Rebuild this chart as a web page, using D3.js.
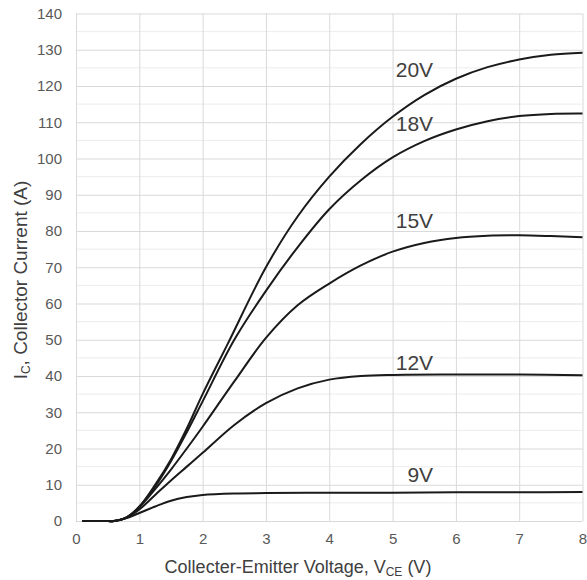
<!DOCTYPE html>
<html><head><meta charset="utf-8">
<script src="https://cdn.jsdelivr.net/npm/d3@7"></script>
<style>body{margin:0;background:#fff}svg{display:block}</style>
</head><body>
<script>
const xTicks = [0,1,2,3,4,5,6,7,8];
const yTicks = [0,10,20,30,40,50,60,70,80,90,100,110,120,130,140];
const yMinor = [5,15,25,35,45,55,65,75,85,95,105,115,125,135];

const seriesNames = ["20V","18V","15V","12V","9V"];
const vce20 = [0.1,0.45,0.6,0.8,1.0,1.25,1.5,1.75,2.0,2.4,3.0,3.5,4.0,4.5,5.0,5.5,6.0,6.5,7.0,7.5,8.0];
const ic20  = [0,0,0,1.0,4.0,10,17,25.5,35,49,70,84,95,104,111.5,117.5,122,125.2,127.3,128.6,129.2];
const vce18 = [0.1,0.45,0.6,0.8,1.0,1.25,1.5,1.75,2.0,2.5,3.0,3.5,4.0,4.5,5.0,5.5,6.0,6.5,7.0,7.5,8.0];
const ic18  = [0,0,0,1.0,3.9,9.5,16.5,24.5,33,50,63.5,75.5,86,94,100.3,104.8,108,110.3,111.7,112.3,112.4];
const vce15 = [0.1,0.45,0.6,0.8,1.0,1.25,1.5,1.75,2.0,2.5,3.0,3.5,4.0,4.5,5.0,5.5,6.0,6.5,7.0,7.5,8.0];
const ic15  = [0,0,0,1.0,3.8,8.8,14.2,20,26,38.5,50.5,59.5,65.5,70.5,74.3,76.7,78.1,78.7,78.8,78.6,78.3];
const vce12 = [0.1,0.45,0.6,0.8,1.0,1.25,1.5,1.75,2.0,2.5,3.0,3.5,4.0,4.5,5.0,6.0,7.0,8.0];
const ic12  = [0,0,0,0.9,3.2,7.2,11.2,15,18.8,26.5,32.5,36.6,39,40,40.3,40.4,40.4,40.2];
const vce9  = [0.1,0.45,0.6,0.8,1.0,1.25,1.5,1.75,2.0,2.5,3.0,4.0,5.0,6.0,7.0,8.0];
const ic9   = [0,0,0,0.8,2.2,4.0,5.6,6.6,7.2,7.6,7.7,7.8,7.8,7.9,7.9,8.0];
const labelVce = [5.64,5.64,5.64,5.64,5.64];
const labelIc  = [122.6,107.6,80.9,41.7,10.8];

const W=587,H=580;
const m={l:76,r:4.5,t:13.5,b:59};
const svg=d3.select("body").append("svg").attr("width",W).attr("height",H);
const x=d3.scaleLinear().domain([0,8]).range([m.l,W-m.r]);
const y=d3.scaleLinear().domain([0,140]).range([H-m.b,m.t]);
const font="'Liberation Sans', Arial, sans-serif";

// minor grid
svg.append("g").selectAll("line").data(yMinor).join("line")
  .attr("x1",x(0)).attr("x2",x(8)).attr("y1",d=>y(d)).attr("y2",d=>y(d))
  .attr("stroke","#ececec").attr("stroke-width",1);
// major grid + axes
const gy=svg.append("g").attr("transform",`translate(${m.l},0)`)
  .call(d3.axisLeft(y).tickValues(yTicks).tickSize(-(x(8)-x(0))).tickPadding(14));
gy.select(".domain").remove();
gy.selectAll(".tick line").attr("stroke","#d9d9d9");
gy.selectAll(".tick text").attr("font-family",font).attr("font-size",15).attr("fill","#595959");
const gx=svg.append("g").attr("transform",`translate(0,${y(0)})`)
  .call(d3.axisBottom(x).tickValues(xTicks).tickSize(-(y(0)-y(140))).tickPadding(12));
gx.select(".domain").remove();
gx.selectAll(".tick line").attr("stroke","#d9d9d9");
gx.selectAll(".tick text").attr("font-family",font).attr("font-size",15).attr("fill","#595959");

const data=[[vce20,ic20],[vce18,ic18],[vce15,ic15],[vce12,ic12],[vce9,ic9]];
const line=d3.line().x(d=>x(d[0])).y(d=>y(d[1])).curve(d3.curveCatmullRom.alpha(0.5));
svg.append("g").selectAll("path").data(data).join("path")
  .attr("d",d=>line(d[0].map((v,i)=>[v,d[1][i]])))
  .attr("fill","none").attr("stroke","#1a1a1a").attr("stroke-width",2);

svg.append("g").selectAll("text").data(seriesNames).join("text")
  .attr("x",(d,i)=>x(labelVce[i])).attr("y",(d,i)=>y(labelIc[i]))
  .attr("text-anchor","end").attr("font-family",font).attr("font-size",21)
  .attr("fill","#404040").text(d=>d);

// x title
const xt=svg.append("text").attr("x",298).attr("y",573)
  .attr("text-anchor","middle").attr("font-family",font).attr("font-size",18).attr("fill","#404040");
xt.append("tspan").text("Collecter-Emitter Voltage, V");
xt.append("tspan").attr("font-size",12).attr("dy",3).text("CE");
xt.append("tspan").attr("dy",-3).text(" (V)");
// y title
const yt=svg.append("text").attr("transform",`translate(27,280) rotate(-90)`)
  .attr("text-anchor","middle").attr("font-family",font).attr("font-size",19).attr("fill","#404040");
yt.append("tspan").text("I");
yt.append("tspan").attr("font-size",12).attr("dy",3).text("C");
yt.append("tspan").attr("dy",-3).text(", Collector Current (A)");
</script>
</body></html>
